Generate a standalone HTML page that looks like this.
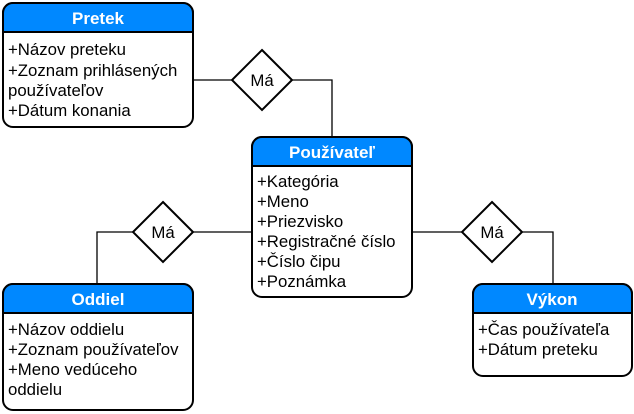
<!DOCTYPE html>
<html><head><meta charset="utf-8"><style>body{margin:0;background:#fff}svg{display:block}text{font-family:"Liberation Sans",Helvetica,Arial,sans-serif;font-size:16.8px;fill:#000}.h{fill:#fff;font-weight:bold;text-anchor:middle;font-size:17px}</style></head><body>
<svg width="634" height="414" viewBox="0 0 634 414" xmlns="http://www.w3.org/2000/svg">
<g fill="none" stroke="#000" stroke-width="1.3">
<path d="M193 80H232M292 80H332V137"/>
<path d="M252 232H193M133 232H97V284"/>
<path d="M412 232H462M522 232H553V283"/>
</g>
<g stroke="#000" stroke-width="2" fill="#fff">
<polygon points="262,50 292,80 262,110 232,80"/>
<polygon points="163,202 193,232 163,262 133,232"/>
<polygon points="492,202 522,232 492,262 462,232"/>
</g>
<text x="262" y="86" text-anchor="middle">Má</text>
<text x="163" y="238" text-anchor="middle">Má</text>
<text x="492" y="238" text-anchor="middle">Má</text>
<g stroke="#000" stroke-width="2">
<rect x="3" y="3" width="190" height="124" rx="10" fill="#fff"/>
<path d="M3 32V13A10 10 0 0 1 13 3H183A10 10 0 0 1 193 13V32Z" fill="#0088ff"/>
<rect x="252" y="137" width="160" height="160" rx="10" fill="#fff"/>
<path d="M252 166V147A10 10 0 0 1 262 137H402A10 10 0 0 1 412 147V166Z" fill="#0088ff"/>
<rect x="3" y="284" width="190" height="126" rx="10" fill="#fff"/>
<path d="M3 313V294A10 10 0 0 1 13 284H183A10 10 0 0 1 193 294V313Z" fill="#0088ff"/>
<rect x="473" y="284" width="159" height="92" rx="10" fill="#fff"/>
<path d="M473 313V294A10 10 0 0 1 483 284H622A10 10 0 0 1 632 294V313Z" fill="#0088ff"/>
</g>
<text class="h" x="98" y="24">Pretek</text>
<text x="8" y="55">+Názov preteku</text>
<text x="8" y="76">+Zoznam prihlásených</text>
<text x="8" y="96">používateľov</text>
<text x="8" y="116">+Dátum konania</text>
<text class="h" x="332" y="158">Používateľ</text>
<text x="257" y="187">+Kategória</text>
<text x="257" y="207">+Meno</text>
<text x="257" y="227">+Priezvisko</text>
<text x="257" y="247">+Registračné číslo</text>
<text x="257" y="267">+Číslo čipu</text>
<text x="257" y="287">+Poznámka</text>
<text class="h" x="98" y="305">Oddiel</text>
<text x="8" y="335">+Názov oddielu</text>
<text x="8" y="355">+Zoznam používateľov</text>
<text x="8" y="375">+Meno vedúceho</text>
<text x="8" y="395">oddielu</text>
<text class="h" x="552" y="305">Výkon</text>
<text x="478" y="335">+Čas používateľa</text>
<text x="478" y="355">+Dátum preteku</text>
</svg>
</body></html>
